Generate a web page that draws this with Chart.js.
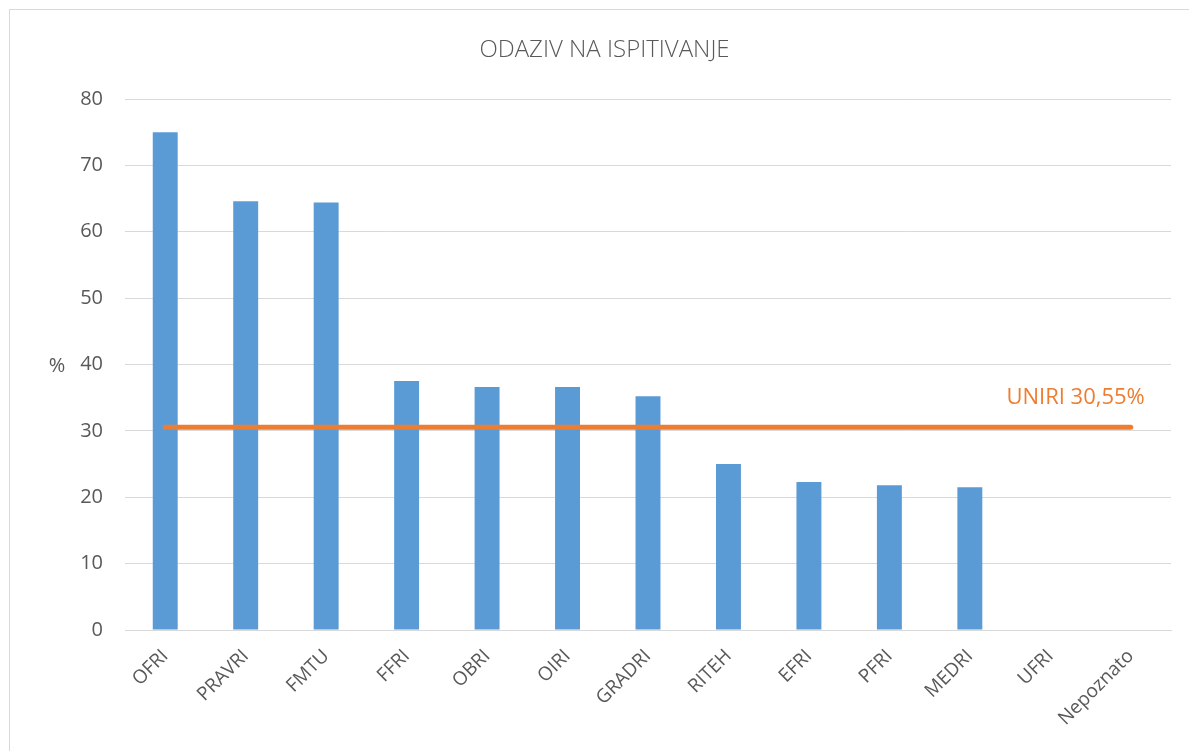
<!DOCTYPE html>
<html>
<head>
<meta charset="utf-8">
<script src="https://cdn.jsdelivr.net/npm/chart.js@4"></script>
<style>
html,body{margin:0;padding:0;background:#fff;}
canvas{display:block;}
</style>
</head>
<body>
<canvas id="c" width="1189" height="751"></canvas>
<script>
const categories = ["OFRI","PRAVRI","FMTU","FFRI","OBRI","OIRI","GRADRI","RITEH","EFRI","PFRI","MEDRI","UFRI","Nepoznato"];
const responseRates = [75.0, 64.6, 64.4, 37.5, 36.6, 36.6, 35.2, 25.0, 22.3, 21.8, 21.5, 0, 0];
const uniriAverage = [30.55,30.55,30.55,30.55,30.55,30.55,30.55,30.55,30.55,30.55,30.55,30.55,30.55];
const titleText = "ODAZIV NA ISPITIVANJE";
const averageLabel = "UNIRI 30,55%";
const yAxisLabel = "%";

const FONT = "'Open Sans', 'Noto Sans', sans-serif";

const decor = {
  id: 'decor',
  beforeDraw(chart) {
    const ctx = chart.ctx;
    ctx.save();
    ctx.fillStyle = '#fff';
    ctx.fillRect(0, 0, chart.width, chart.height);
    ctx.strokeStyle = '#D9D9D9';
    ctx.lineWidth = 1;
    ctx.strokeRect(9.5, 9.5, chart.width + 10, chart.height + 10);
    ctx.restore();
  },
  afterDraw(chart) {
    const ctx = chart.ctx;
    const ca = chart.chartArea;
    const x = chart.scales.x, y = chart.scales.y;
    ctx.save();
    ctx.fillStyle = '#595959';
    ctx.font = "300 24px " + FONT;
    ctx.textAlign = 'center';
    ctx.textBaseline = 'middle';
    ctx.fillText(titleText, chart.width / 2 + 10, 50);
    ctx.font = "20px " + FONT;
    ctx.fillText(yAxisLabel, 57, (ca.top + ca.bottom) / 2 + 2);
    ctx.fillStyle = '#ED7D31';
    ctx.font = "22px " + FONT;
    ctx.textAlign = 'right';
    ctx.textBaseline = 'middle';
    ctx.fillText(averageLabel, x.getPixelForValue(categories.length - 1) + 14, y.getPixelForValue(30.55) - 29);
    ctx.restore();
  }
};

new Chart(document.getElementById('c'), {
  data: {
    labels: categories,
    datasets: [
      {
        type: 'line',
        label: 'UNIRI',
        data: uniriAverage,
        borderColor: '#ED7D31',
        borderWidth: 5,
        borderCapStyle: 'round',
        pointRadius: 0,
        fill: false,
        order: 0
      },
      {
        type: 'bar',
        label: 'Odaziv',
        data: responseRates,
        backgroundColor: '#5B9BD5',
        borderWidth: 0,
        categoryPercentage: 1,
        barPercentage: 0.31,
        order: 1
      }
    ]
  },
  options: {
    responsive: false,
    animation: false,
    layout: { padding: { left: 0, top: 99, right: 18, bottom: 0 } },
    plugins: { legend: { display: false }, title: { display: false }, tooltip: { enabled: false } },
    scales: {
      x: {
        grid: { display: false, drawTicks: false },
        border: { color: '#D9D9D9', width: 1 },
        ticks: {
          color: '#595959',
          font: { family: FONT, size: 19 },
          minRotation: 45, maxRotation: 45,
          padding: 15
        },
        afterFit(scale) { scale.height = 121; }
      },
      y: {
        min: 0, max: 80,
        grid: { color: '#D9D9D9', lineWidth: 1, drawTicks: false },
        border: { display: false },
        ticks: {
          stepSize: 10,
          color: '#595959',
          font: { family: FONT, size: 20 },
          padding: 22
        },
        afterFit(scale) { scale.width = 125; }
      }
    }
  },
  plugins: [decor]
});
</script>
</body>
</html>
